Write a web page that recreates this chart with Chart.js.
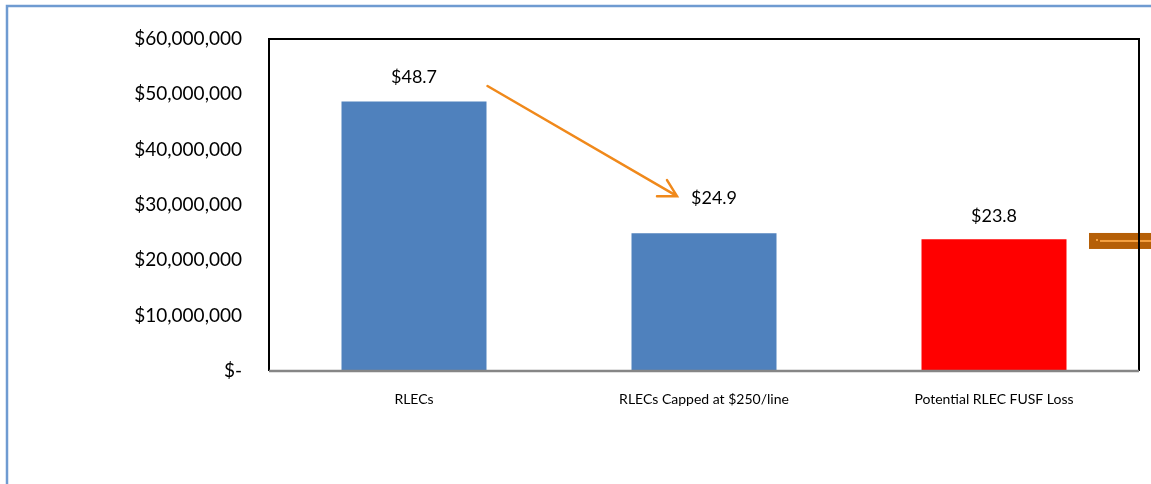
<!DOCTYPE html>
<html>
<head>
<meta charset="utf-8">
<script src="https://cdn.jsdelivr.net/npm/chart.js@4.4.1/dist/chart.umd.min.js"></script>
<style>
  html, body { margin: 0; padding: 0; background: #fff; overflow: hidden; }
  #wrap { width: 1151px; height: 484px; }
</style>
</head>
<body>
<div id="wrap"><canvas id="chart"></canvas></div>
<script>
const categories = ['RLECs', 'RLECs Capped at $250/line', 'Potential RLEC FUSF Loss'];
const amounts = [48700000, 24900000, 23800000];
const barLabels = ['$48.7', '$24.9', '$23.8'];
const barColors = ['#4F81BD', '#4F81BD', '#FF0000'];
const yTicks = [0, 10000000, 20000000, 30000000, 40000000, 50000000, 60000000];

const FONT = 'Lato, "Open Sans", sans-serif';

function money(v) {
    if (v === 0) return '$-';
    return '$' + v.toLocaleString('en-US');
}

// outer frame, value labels, arrow and the cut-off marker on the right
const decorations = {
    id: 'decorations',
    beforeDraw(chart) {
        const c = chart.ctx;
        c.save();
        c.strokeStyle = '#6F9BD1';
        c.lineWidth = 2.5;
        c.beginPath();
        c.moveTo(7, chart.height);
        c.lineTo(7, 6);
        c.lineTo(chart.width, 6);
        c.stroke();
        c.restore();
    },
    afterDatasetsDraw(chart) {
        const c = chart.ctx;
        const y = chart.scales.y;
        const area = chart.chartArea;
        const bars = chart.getDatasetMeta(0).data;

        // value labels
        const dx = [0, 10, 0], dy = [24, 35, 23];
        c.save();
        c.font = '18px ' + FONT;
        c.fillStyle = '#000';
        c.textAlign = 'center';
        c.textBaseline = 'middle';
        bars.forEach((b, i) => c.fillText(barLabels[i], b.x + dx[i], b.y - dy[i]));

        // arrow from first bar down to second label
        const x0 = bars[0].x + bars[0].width / 2 + 1, y0 = y.getPixelForValue(51500000);
        const x1 = bars[1].x - 27, y1 = y.getPixelForValue(31600000);
        c.strokeStyle = '#F0891B';
        c.lineWidth = 2.5;
        c.lineCap = 'round';
        c.beginPath();
        c.moveTo(x0, y0);
        c.lineTo(x1, y1);
        c.moveTo(x1 - 20, y1);
        c.lineTo(x1, y1);
        c.lineTo(x1 - 10, y1 - 16);
        c.stroke();

        // brown marker sticking in from the right
        const ym = y.getPixelForValue(23500000);
        c.fillStyle = '#B55F07';
        c.fillRect(area.right - 50, ym - 8, chart.width - area.right + 50, 16);
        c.fillStyle = '#F4A040';
        c.fillRect(area.right - 39, ym - 1, chart.width - area.right + 39, 2);
        c.fillRect(area.right - 43, ym - 2, 2, 2);

        // plot frame
        c.lineCap = 'butt';
        c.strokeStyle = '#000';
        c.lineWidth = 2;
        c.beginPath();
        c.moveTo(area.left, area.bottom);
        c.lineTo(area.left, area.top);
        c.lineTo(area.right, area.top);
        c.lineTo(area.right, area.bottom);
        c.stroke();
        c.strokeStyle = '#868686';
        c.lineWidth = 2.5;
        c.beginPath();
        c.moveTo(area.left, area.bottom);
        c.lineTo(area.right, area.bottom);
        c.stroke();
        c.restore();
    }
};

new Chart(document.getElementById('chart'), {
    type: 'bar',
    data: {
        labels: categories,
        datasets: [{
            data: amounts,
            backgroundColor: barColors,
            borderWidth: 0,
            categoryPercentage: 1,
            barPercentage: 0.5
        }]
    },
    options: {
        responsive: true,
        maintainAspectRatio: false,
        animation: false,
        layout: { padding: { top: 39, right: 12, left: 0, bottom: 0 } },
        plugins: { legend: { display: false }, tooltip: { enabled: false } },
        scales: {
            x: {
                grid: { display: false },
                border: { display: false },
                ticks: { color: '#000', padding: 12, font: { family: FONT, size: 14 } },
                afterFit: s => { s.height = 113; }
            },
            y: {
                min: 0,
                max: 60000000,
                grid: { display: false },
                border: { display: false },
                afterBuildTicks: s => { s.ticks = yTicks.map(v => ({ value: v })); },
                ticks: {
                    color: '#000',
                    padding: 19,
                    font: { family: FONT, size: 19 },
                    callback: v => money(v)
                },
                afterFit: s => { s.width = 269; }
            }
        }
    },
    plugins: [decorations]
});
</script>
</body>
</html>
